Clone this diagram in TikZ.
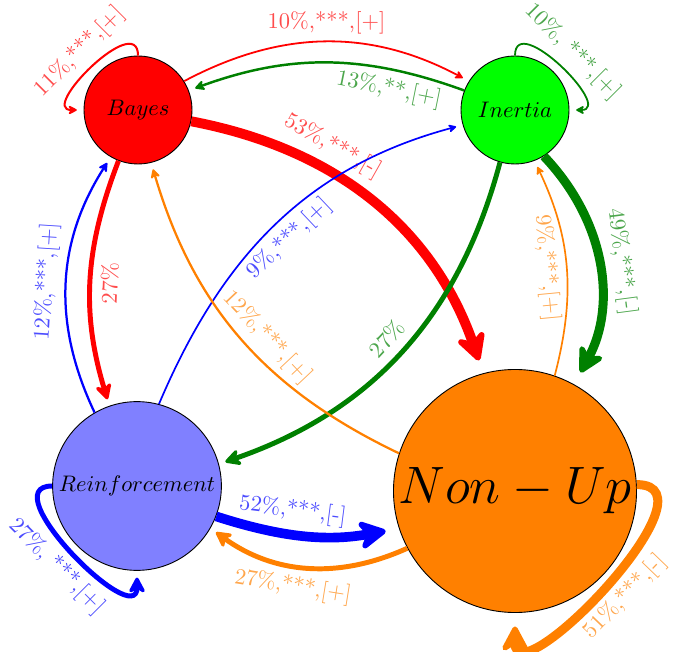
\documentclass[tikz,border=0pt]{standalone}
\usepackage{graphicx}
\usetikzlibrary{arrows.meta}

\begin{document}
\begin{tikzpicture}[
    x=0.4444pt, y=0.4444pt,
    state/.style={circle, draw, thin, inner sep=0pt},
    edge/.style={->, >={Stealth[round, length=2pt 3, width=2pt 3.2]}, shorten >=3pt},
    fat/.style={shorten >=6pt},
    lbl/.style={sloped, text opacity=0.7}
  ]
  \useasboundingbox (0,0) rectangle (677,-652);

  \node[state, fill=red, minimum size=48pt]     (bayes)   at (138,-110) {$Bayes$};
  \node[state, fill=green, minimum size=48pt]   (inertia) at (515,-110) {$Inertia$};
  \node[state, fill=blue!50, minimum size=75pt] (reinf)   at (137,-486) {$Reinforcement$};
  \node[state, fill=orange, minimum size=108pt, font=\Huge] (nonup) at (515,-491) {\scalebox{0.94}{$Non-Up$}};

  % from Bayes
  \draw[edge, red, line width=0.9pt] (bayes.90) to[out=90, in=180, looseness=1.5] node[lbl, above] {11\%,***,[+]} (bayes.180);
  \draw[edge, red, line width=0.8pt] (bayes.32) to[bend left=28] node[lbl, above] {10\%,***,[+]} (inertia.148);
  \draw[edge, fat, red, line width=4.4pt] (bayes.-12) to[bend left=30] node[lbl, above, pos=0.33] {53\%,***,[-]} (nonup.105);
  \draw[edge, red, line width=2.2pt] (bayes.249) to[bend right=19] node[lbl, below] {27\%} (reinf.109);

  % from Inertia
  \draw[edge, green!50!black, line width=1.1pt] (inertia.159) to[bend right=20] node[lbl, below, pos=0.25] {13\%,**,[+]} (bayes.21);
  \draw[edge, green!50!black, line width=0.8pt] (inertia.90) to[out=90, in=0, looseness=1.5] node[lbl, above] {10\%, ***,[+]} (inertia.0);
  \draw[edge, green!50!black, line width=2.2pt] (inertia.254) to[bend left=28] node[lbl, above, pos=0.5] {27\%} (reinf.15);
  \draw[edge, fat, green!50!black, line width=4pt] (inertia.302) to[bend left=36] node[lbl, above] {49\%,***,[-]} (nonup.61);

  % from Reinforcement
  \draw[edge, blue, line width=1pt] (reinf.120) to[bend left=29] node[lbl, above] {12\%,***,[+]} (bayes.240);
  \draw[edge, blue, line width=0.75pt] (reinf.75) to[out=67, in=195] node[lbl, below, pos=0.5] {9\%,***,[+]} (inertia.196);
  \draw[edge, fat, blue, line width=4.3pt] (reinf.-21) to[bend right=14] node[lbl, above, pos=0.4] {52\%,***,[-]} (nonup.198);
  \draw[edge, blue, line width=2.2pt] (reinf.180) to[out=180, in=270, looseness=1.3] node[lbl, below] {27\%, ***,[+]} (reinf.270);

  % from Non-Up
  \draw[edge, orange, line width=1pt] (nonup.162) to[bend left=24] node[lbl, above, pos=0.45] {12\%,***,[+]} (bayes.284);
  \draw[edge, orange, line width=0.75pt] (nonup.71) to[bend right=20] node[lbl, below] {9\%,***,[+]} (inertia.291);
  \draw[edge, orange, line width=2.2pt] (nonup.208) to[bend left=30] node[lbl, below, pos=0.55] {27\%,***,[+]} (reinf.-30);
  \draw[edge, fat, orange, line width=4pt] (nonup.3) to[out=0, in=270, looseness=1.25] node[lbl, below] {51\%,***,[-]} (nonup.270);
\end{tikzpicture}
\end{document}
